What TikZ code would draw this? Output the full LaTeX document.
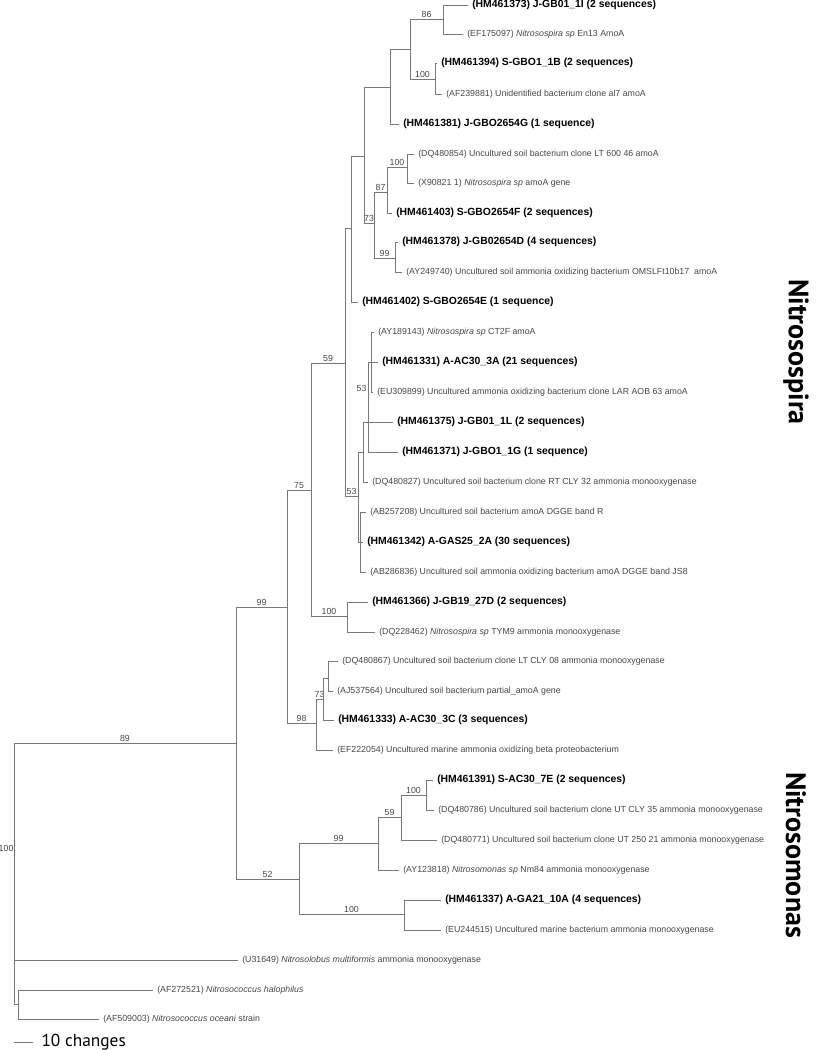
\documentclass[tikz,border=0pt]{standalone}
\usepackage{fontspec}
\setmainfont{Liberation Sans}
\newfontfamily\cladefont{PT Sans}
\definecolor{branchgray}{RGB}{120,120,120}
\definecolor{leafgray}{RGB}{70,70,70}
\tikzset{
  branch/.style={draw=branchgray, line width=0.75pt},
  leaf/.style={anchor=west, inner sep=3pt, text=leafgray, font=\fontsize{6.6}{7}\selectfont},
  ownleaf/.style={anchor=west, inner sep=3pt, text=black, font=\fontsize{7.8}{9}\selectfont\bfseries},
  support/.style={above, inner sep=1pt, text=leafgray, font=\fontsize{6.6}{7}\selectfont},
  clade/.style={rotate=-90, text=black, font=\cladefont\fontsize{21}{22}\selectfont\bfseries},
}

\begin{document}
\begin{tikzpicture}[x=0.75pt,y=0.75pt,yscale=-1,xscale=1]
\useasboundingbox (0,0) rectangle (820,1050);

% Internal nodes
\coordinate (root) at (14,873);
\coordinate (n89) at (236,743);
\coordinate (n99a) at (287,607);
\coordinate (n75) at (311,490);
\coordinate (n59) at (345,363);
\coordinate (nS1) at (351,228);
\coordinate (nS2) at (364,156);
\coordinate (nS3) at (390,87);
\coordinate (nS4) at (410,49);
\coordinate (n86) at (443,19);
\coordinate (n100a) at (435,79);
\coordinate (n73a) at (374,223);
\coordinate (n87) at (387,192);
\coordinate (n100b) at (407,167);
\coordinate (n99b) at (395,258);
\coordinate (n53b) at (358,496);
\coordinate (nE) at (363,452);
\coordinate (nA) at (368,422);
\coordinate (nB) at (371,362);
\coordinate (nD) at (360,542);
\coordinate (n100c) at (347,616);
\coordinate (n98) at (316,723);
\coordinate (n73b) at (323,699);
\coordinate (nF) at (328,678);
\coordinate (n52) at (299,879);
\coordinate (n99c) at (378,843);
\coordinate (n59b) at (401,817);
\coordinate (n100d) at (426,795);
\coordinate (n100e) at (404,914);
\coordinate (nG) at (18,1004);

% Text Node
\node[ownleaf] (hm461373) at (468,5) {(HM461373) J-GB01\_1I (2 sequences)};
\node[leaf] (ef175097) at (463,34) {(EF175097) \textit{Nitrosospira sp} En13 AmoA};
\node[ownleaf] (hm461394) at (437,63) {(HM461394) S-GBO1\_1B (2 sequences)};
\node[leaf] (af239881) at (442,94) {(AF239881) Unidentified bacterium clone al7 amoA};
\node[ownleaf] (hm461381) at (399,124) {(HM461381) J-GBO2654G (1 sequence)};
\node[leaf] (dq480854) at (414,154) {(DQ480854) Uncultured soil bacterium clone LT 600 46 amoA};
\node[leaf] (x90821) at (414,183) {(X90821 1) \textit{Nitrosospira sp} amoA gene};
\node[ownleaf] (hm461403) at (392,213) {(HM461403) S-GBO2654F (2 sequences)};
\node[ownleaf] (hm461378) at (398,242) {(HM461378) J-GB02654D (4 sequences)};
\node[leaf] (ay249740) at (402,272) {(AY249740) Uncultured soil ammonia oxidizing bacterium OMSLFt10b17\ \ amoA};
\node[ownleaf] (hm461402) at (358,302) {(HM461402) S-GBO2654E (1 sequence)};
\node[leaf] (ay189143) at (374,332) {(AY189143) \textit{Nitrosospira sp} CT2F amoA};
\node[ownleaf] (hm461331) at (378,362) {(HM461331) A-AC30\_3A (21 sequences)};
\node[leaf] (eu309899) at (373,392) {(EU309899) Uncultured ammonia oxidizing bacterium clone LAR AOB 63 amoA};
\node[ownleaf] (hm461375) at (393,422) {(HM461375) J-GB01\_1L (2 sequences)};
\node[ownleaf] (hm461371) at (398,452) {(HM461371) J-GBO1\_1G (1 sequence)};
\node[leaf] (dq480827) at (368,482) {(DQ480827) Uncultured soil bacterium clone RT CLY 32 ammonia monooxygenase};
\node[leaf] (ab257208) at (366,512) {(AB257208) Uncultured soil bacterium amoA DGGE band R};
\node[ownleaf] (hm461342) at (363,542) {(HM461342) A-GAS25\_2A (30 sequences)};
\node[leaf] (ab286836) at (366,572) {(AB286836) Uncultured soil ammonia oxidizing bacterium amoA DGGE band JS8};
\node[ownleaf] (hm461366) at (368,602) {(HM461366) J-GB19\_27D (2 sequences)};
\node[leaf] (dq228462) at (375,632) {(DQ228462) \textit{Nitrosospira sp} TYM9 ammonia monooxygenase};
\node[leaf] (dq480867) at (338,661) {(DQ480867) Uncultured soil bacterium clone LT CLY 08 ammonia monooxygenase};
\node[leaf] (aj537564) at (333,691) {(AJ537564) Uncultured soil bacterium partial\_amoA gene};
\node[ownleaf] (hm461333) at (334,720) {(HM461333) A-AC30\_3C (3 sequences)};
\node[leaf] (ef222054) at (333,750) {(EF222054) Uncultured marine ammonia oxidizing beta proteobacterium};
\node[ownleaf] (hm461391) at (433,780) {(HM461391) S-AC30\_7E (2 sequences)};
\node[leaf] (dq480786) at (434,810) {(DQ480786) Uncultured soil bacterium clone UT CLY 35 ammonia monooxygenase};
\node[leaf] (dq480771) at (437,840) {(DQ480771) Uncultured soil bacterium clone UT 250 21 ammonia monooxygenase};
\node[leaf] (ay123818) at (399,870) {(AY123818) \textit{Nitrosomonas sp} Nm84 ammonia monooxygenase};
\node[ownleaf] (hm461337) at (441,900) {(HM461337) A-GA21\_10A (4 sequences)};
\node[leaf] (eu244515) at (441,930) {(EU244515) Uncultured marine bacterium ammonia monooxygenase};
\node[leaf] (u31649) at (238,960) {(U31649) \textit{Nitrosolobus multiformis} ammonia monooxygenase};
\node[leaf] (af272521) at (153,990) {(AF272521) \textit{Nitrosococcus halophilus}};
\node[leaf] (af509003) at (99,1019) {(AF509003) \textit{Nitrosococcus oceani} strain};

%Straight Lines
\draw[branch] (root) |- (n89) node[support, pos=0.75] {89};
\draw[branch] (root) |- (u31649.west);
\draw[branch] (root) |- (nG);
\draw[branch] (nG) |- (af272521.west);
\draw[branch] (nG) |- (af509003.west);

\draw[branch] (n89) |- (n99a) node[support, pos=0.75] {99};
\draw[branch] (n89) |- (n52) node[support, pos=0.75] {52};
\draw[branch] (n99a) |- (n75) node[support, pos=0.75] {75};
\draw[branch] (n99a) |- (n98) node[support, pos=0.75] {98};
\draw[branch] (n75) |- (n59) node[support, pos=0.75] {59};
\draw[branch] (n75) |- (n100c) node[support, pos=0.75] {100};
\draw[branch] (n100c) |- (hm461366.west);
\draw[branch] (n100c) |- (dq228462.west);

\draw[branch] (n59) |- (nS1);
\draw[branch] (n59) |- (n53b) node[support, pos=0.75] {53};
\draw[branch] (nS1) |- (nS2);
\draw[branch] (nS1) |- (hm461402.west);
\draw[branch] (nS2) |- (nS3);
\draw[branch] (nS2) |- (n73a) node[support, pos=0.75] {73};
\draw[branch] (nS3) |- (nS4);
\draw[branch] (nS3) |- (hm461381.west);
\draw[branch] (nS4) |- (n86) node[support, pos=0.75] {86};
\draw[branch] (nS4) |- (n100a) node[support, pos=0.75] {100};
\draw[branch] (n86) |- (hm461373.west);
\draw[branch] (n86) |- (ef175097.west);
\draw[branch] (n100a) |- (hm461394.west);
\draw[branch] (n100a) |- (af239881.west);
\draw[branch] (n73a) |- (n87) node[support, pos=0.75] {87};
\draw[branch] (n73a) |- (n99b) node[support, pos=0.75] {99};
\draw[branch] (n87) |- (n100b) node[support, pos=0.75] {100};
\draw[branch] (n87) |- (hm461403.west);
\draw[branch] (n100b) |- (dq480854.west);
\draw[branch] (n100b) |- (x90821.west);
\draw[branch] (n99b) |- (hm461378.west);
\draw[branch] (n99b) |- (ay249740.west);

\draw[branch] (n53b) |- (nE);
\draw[branch] (n53b) |- (nD);
\draw[branch] (nE) |- (nA);
\draw[branch] (nE) |- (dq480827.west);
\draw[branch] (nA) |- (nB);
\draw[branch] (nA) |- (hm461375.west);
\draw[branch] (nA) |- (hm461371.west);
\draw[branch] (nB) |- (ay189143.west);
\draw[branch] (nB) |- (hm461331.west);
\draw[branch] (nB) |- (eu309899.west);
\draw[branch] (nD) |- (ab257208.west);
\draw[branch] (nD) |- (hm461342.west);
\draw[branch] (nD) |- (ab286836.west);

\draw[branch] (n98) |- (n73b) node[support, pos=0.75] {73};
\draw[branch] (n98) |- (ef222054.west);
\draw[branch] (n73b) |- (nF);
\draw[branch] (n73b) |- (hm461333.west);
\draw[branch] (nF) |- (dq480867.west);
\draw[branch] (nF) |- (aj537564.west);

\draw[branch] (n52) |- (n99c) node[support, pos=0.75] {99};
\draw[branch] (n52) |- (n100e) node[support, pos=0.75] {100};
\draw[branch] (n99c) |- (n59b) node[support, pos=0.75] {59};
\draw[branch] (n99c) |- (ay123818.west);
\draw[branch] (n59b) |- (n100d) node[support, pos=0.75] {100};
\draw[branch] (n59b) |- (dq480771.west);
\draw[branch] (n100d) |- (hm461391.west);
\draw[branch] (n100d) |- (dq480786.west);
\draw[branch] (n100e) |- (hm461337.west);
\draw[branch] (n100e) |- (eu244515.west);

% Text Node
\node[support, anchor=east] (lab53) at (368,388) {53};
\node[support, anchor=east] (lab100) at (15,848) {100};
\node[clade] (nitrosospira) at (796,352) {Nitrosospira};
\node[clade] (nitrosomonas) at (796,855) {Nitrosomonas};

% Scale bar
\coordinate (barA) at (14,1042);
\coordinate (barB) at (33,1042);
\draw[branch] (barA) -- (barB) node[right, inner sep=6pt, font=\cladefont\fontsize{13}{14}\selectfont] (barlabel) {10 changes};

\end{tikzpicture}
\end{document}
